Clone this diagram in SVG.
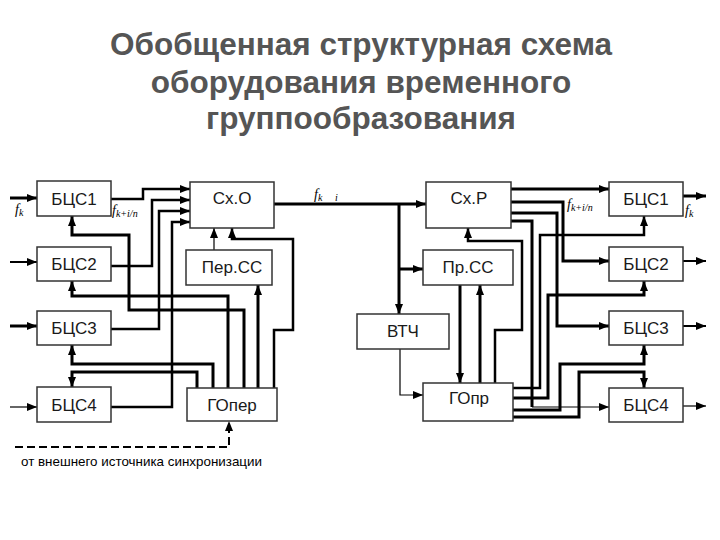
<svg xmlns="http://www.w3.org/2000/svg" width="720" height="540" viewBox="0 0 720 540">
<defs>
<marker id="ah" viewBox="0 0 10 8" refX="10" refY="4" markerWidth="10" markerHeight="8" markerUnits="userSpaceOnUse" orient="auto"><path d="M0,0 L10,4 L0,8 z" fill="#000"/></marker>
<style>
.box rect{fill:#fff;stroke:#333;stroke-width:1.5}
.box text{font-family:"Liberation Sans",Arial,sans-serif;font-size:17px;fill:#1a1a1a;text-anchor:middle}
.title{font-family:"Liberation Sans",Arial,sans-serif;font-weight:bold;font-size:31.5px;fill:#555;text-anchor:middle}
.w path{fill:none;stroke:#000;stroke-linejoin:miter}
.t3{stroke-width:3}
.t25{stroke-width:2.5}
.t2{stroke-width:2}
.t1{stroke-width:1.2}
.a{marker-end:url(#ah)}
.dash{stroke-dasharray:8 4;stroke-width:2}
.lbl{font-family:"Liberation Serif","Times New Roman",serif;font-style:italic;font-size:14px;fill:#000}
.note{font-family:"Liberation Sans",Arial,sans-serif;font-size:13.5px;fill:#000}
</style>
</defs>
<rect width="720" height="540" fill="#fff"/>
<text class="title" x="361" y="55">Обобщенная структурная схема</text>
<text class="title" x="361" y="93">оборудования временного</text>
<text class="title" x="361" y="129">группообразования</text>

<g class="w" id="connectors">
<path class="t3 a" d="M10,198 H37"/>
<path class="t2 a" d="M10,262 H37"/>
<path class="t3 a" d="M10,326 H37"/>
<path class="t1 a" d="M10,407 H37"/>
<path class="t25 a" d="M111,199 H143 V189 H190"/>
<path class="t25 a" d="M111,266 H152 V200 H190"/>
<path class="t25 a" d="M111,329 H159 V211 H190"/>
<path class="t25 a" d="M111,407 H172 V222 H190"/>
<path class="t3 a" d="M244,388 V310 H129 V235 H72 V216"/>
<path class="t3 a" d="M228,388 V296 H72 V281"/>
<path class="t3 a" d="M213,388 V364 H72 V345"/>
<path class="t3 a" d="M197,388 V372 H72 V387"/>
<path class="t3 a" d="M258,388 V285"/>
<path class="t25 a" d="M274,388 V330 H293 V239 H232 V228"/>
<path class="t1 a" d="M214,250 V228"/>
<path class="dash a" d="M15,447 H229 V421"/>
<path class="t3 a" d="M274,204 H426"/>
<path class="t3 a" d="M399,204 V314"/>
<path class="t3 a" d="M399,269 H423"/>
<path class="t1 a" d="M400,349 V395 H423"/>
<path class="t3 a" d="M460,285 V383"/>
<path class="t3 a" d="M480,383 V285"/>
<path class="t25 a" d="M495,383 V330 H522 V241 H468 V228"/>
<path class="t3 a" d="M511,189 H609"/>
<path class="t3 a" d="M511,202 H563 V261 H609"/>
<path class="t3 a" d="M511,213 H557 V326 H609"/>
<path class="t3" d="M511,221 H532 V407"/>
<path class="t1 a" d="M532,407 H609"/>
<path class="t25 a" d="M513,388 H540 V235 H644 V216"/>
<path class="t3 a" d="M513,398 H548 V295 H644 V281"/>
<path class="t3 a" d="M513,410 H560 V364 H644 V345"/>
<path class="t3 a" d="M513,417 H579 V372 H644 V388"/>
<path class="t3 a" d="M683,196 H706"/>
<path class="t2 a" d="M683,261 H706"/>
<path class="t2 a" d="M683,326 H706"/>
<path class="t1 a" d="M683,406 H706"/>
</g>

<g id="bcs1L" class="box"><rect x="37" y="181" width="74" height="35"/><text x="74" y="205">БЦС1</text></g>
<g id="bcs2L" class="box"><rect x="37" y="247" width="74" height="34"/><text x="74" y="270">БЦС2</text></g>
<g id="bcs3L" class="box"><rect x="37" y="311" width="74" height="34"/><text x="74" y="334">БЦС3</text></g>
<g id="bcs4L" class="box"><rect x="37" y="387" width="74" height="35"/><text x="74" y="411">БЦС4</text></g>
<g id="sxo" class="box"><rect x="190" y="182" width="84" height="46"/><text x="232" y="204">Сх.О</text></g>
<g id="perss" class="box"><rect x="186" y="250" width="86" height="35"/><text x="232" y="273">Пер.СС</text></g>
<g id="goper" class="box"><rect x="187" y="388" width="90" height="33"/><text x="232" y="411">ГОпер</text></g>
<g id="sxr" class="box"><rect x="426" y="182" width="85" height="46"/><text x="469" y="204">Сх.Р</text></g>
<g id="prss" class="box"><rect x="423" y="250" width="90" height="35"/><text x="468" y="273">Пр.СС</text></g>
<g id="vtch" class="box"><rect x="357" y="314" width="92" height="35"/><text x="403" y="337">ВТЧ</text></g>
<g id="gopr" class="box"><rect x="423" y="383" width="90" height="38"/><text x="469" y="404">ГОпр</text></g>
<g id="bcs1R" class="box"><rect x="609" y="182" width="74" height="34"/><text x="646" y="205">БЦС1</text></g>
<g id="bcs2R" class="box"><rect x="609" y="247" width="74" height="34"/><text x="646" y="270">БЦС2</text></g>
<g id="bcs3R" class="box"><rect x="609" y="311" width="74" height="34"/><text x="646" y="334">БЦС3</text></g>
<g id="bcs4R" class="box"><rect x="609" y="388" width="74" height="34"/><text x="646" y="411">БЦС4</text></g>

<g id="labels">
<text class="lbl" x="15" y="214">f<tspan font-size="10" dy="2">k</tspan></text>
<text class="lbl" x="112" y="215">f<tspan font-size="10" dy="2">k+i/n</tspan></text>
<text class="lbl" x="567" y="209">f<tspan font-size="10" dy="2">k+i/n</tspan></text>
<text class="lbl" x="685" y="215">f<tspan font-size="10" dy="2">k</tspan></text>
<text class="lbl" x="314" y="199">f<tspan font-size="10" dy="2">k</tspan><tspan font-size="10" x="335">i</tspan></text>
<text class="note" x="21" y="466" textLength="241" lengthAdjust="spacingAndGlyphs">от внешнего источника синхронизации</text>
</g>
</svg>
